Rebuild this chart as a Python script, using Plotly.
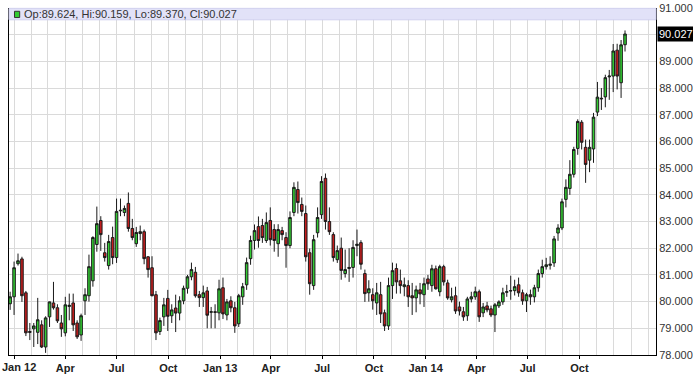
import plotly.graph_objects as go
import pandas as pd

first_week = "2011-12-25"

opens = [
    79.92, 80.18, 81.42, 81.60, 80.33, 78.88, 78.98, 78.85, 79.13, 78.30,
    79.43, 79.95, 79.77, 79.20, 78.83, 79.82, 79.95, 79.20, 78.75, 80.03,
    80.22, 80.78, 82.14, 83.04, 81.83, 81.35, 82.40, 81.65, 83.40, 83.34,
    83.68, 82.74, 82.17, 82.55, 82.62, 81.68, 81.27, 80.26, 78.88, 79.43,
    80.12, 79.47, 79.76, 79.57, 80.03, 80.50, 80.93, 81.10, 80.26, 80.15,
    80.40, 79.60, 79.62, 79.58, 80.52, 79.50, 80.03, 79.77, 79.17, 80.18,
    80.63, 81.61, 82.29, 82.81, 82.85, 82.29, 83.04, 82.70, 82.17, 82.66,
    82.40, 82.10, 83.34, 84.20, 83.64, 83.30, 81.83, 80.60, 82.58, 83.26,
    84.62, 83.00, 82.51, 81.57, 82.00, 81.05, 81.24, 81.28, 82.10, 82.21,
    81.05, 80.33, 80.26, 79.95, 80.26, 79.58, 79.09, 80.60, 81.24, 80.78,
    80.56, 80.60, 80.22, 80.14, 80.44, 80.26, 80.85, 80.60, 81.23, 80.37,
    81.31, 80.70, 80.07, 80.22, 79.80, 79.62, 79.47, 80.10, 80.18, 80.37,
    79.58, 79.84, 79.73, 79.50, 79.84, 79.99, 80.35, 80.40, 80.41, 80.63,
    80.33, 80.03, 80.26, 80.18, 80.52, 81.05, 81.31, 81.36, 81.45, 82.57,
    82.76, 83.83, 84.24, 84.77, 85.74, 86.72, 85.78, 85.30, 85.72, 87.10,
    87.62, 87.67, 88.42, 88.45, 89.42, 88.20, 89.624,
]

closes = [
    80.18, 81.27, 81.53, 80.22, 78.83, 78.85, 79.09, 79.32, 78.30, 79.39,
    79.99, 79.77, 79.28, 78.98, 79.88, 79.86, 79.13, 78.68, 79.47, 80.26,
    81.31, 82.40, 82.92, 82.51, 81.65, 82.25, 81.65, 83.38, 83.42, 83.49,
    82.74, 82.40, 82.59, 82.62, 81.61, 81.20, 80.22, 78.83, 79.29, 79.88,
    79.45, 79.69, 79.57, 80.03, 80.50, 80.93, 81.20, 80.22, 80.15, 80.33,
    79.49, 79.62, 79.60, 80.48, 79.54, 79.99, 79.77, 79.09, 80.22, 80.56,
    81.46, 82.29, 82.66, 82.29, 82.40, 82.96, 82.32, 82.29, 82.70, 82.51,
    82.10, 83.15, 84.28, 83.71, 83.38, 81.68, 80.67, 82.32, 83.15, 84.50,
    83.00, 82.62, 81.65, 81.91, 81.17, 81.20, 81.28, 82.03, 82.15, 81.40,
    80.30, 80.48, 80.03, 80.33, 79.54, 79.09, 80.60, 81.16, 80.74, 80.60,
    80.63, 80.18, 80.14, 80.44, 80.29, 80.67, 80.67, 81.23, 80.48, 81.31,
    80.74, 80.14, 80.18, 79.65, 79.65, 79.43, 80.10, 80.18, 80.37, 79.43,
    79.80, 79.69, 79.50, 79.88, 79.99, 80.33, 80.37, 80.41, 80.56, 80.33,
    80.03, 80.26, 80.18, 80.52, 81.05, 81.31, 81.38, 81.40, 82.35, 82.76,
    83.74, 84.28, 84.77, 85.70, 86.75, 85.97, 85.14, 85.78, 86.91, 87.66,
    87.60, 88.39, 88.45, 89.39, 88.45, 89.62, 90.027,
]

highs = [
    80.37, 81.50, 81.80, 81.68, 80.40, 79.20, 79.20, 80.14, 79.30, 79.45,
    80.00, 80.74, 79.90, 79.50, 80.18, 80.30, 80.30, 79.30, 79.55, 80.50,
    81.76, 82.45, 83.56, 83.20, 82.20, 82.50, 82.81, 83.86, 83.86, 83.60,
    84.09, 83.10, 82.80, 82.85, 82.70, 81.70, 81.70, 80.40, 79.40, 80.14,
    80.44, 79.90, 80.26, 80.20, 80.60, 81.00, 81.46, 81.30, 80.40, 80.60,
    80.55, 79.80, 79.90, 80.82, 80.90, 80.10, 80.20, 79.99, 80.29, 80.70,
    81.65, 82.47, 82.89, 83.19, 83.10, 83.34, 83.53, 82.90, 82.90, 82.80,
    82.60, 83.38, 84.47, 84.50, 83.90, 83.60, 81.99, 82.50, 83.53, 84.70,
    84.80, 83.53, 82.60, 82.10, 82.40, 81.95, 82.00, 82.30, 82.70, 82.30,
    81.20, 80.80, 80.50, 80.70, 80.74, 79.70, 80.90, 81.46, 81.43, 81.20,
    80.90, 80.80, 80.70, 80.60, 80.70, 80.90, 81.00, 81.38, 81.35, 81.38,
    81.38, 80.82, 80.52, 80.56, 80.00, 79.80, 80.18, 80.37, 80.56, 80.45,
    79.95, 79.99, 79.85, 79.95, 80.05, 80.52, 80.63, 80.97, 80.82, 80.90,
    80.45, 80.33, 80.45, 80.63, 81.20, 81.57, 81.64, 81.70, 82.46, 82.90,
    83.86, 84.58, 85.30, 85.80, 86.83, 86.80, 86.07, 86.07, 87.07, 88.23,
    88.00, 88.50, 88.68, 89.65, 89.66, 89.80, 90.159,
]

lows = [
    79.69, 79.50, 81.35, 79.99, 78.71, 78.56, 78.30, 78.41, 78.26, 78.08,
    79.05, 79.70, 79.20, 78.68, 78.70, 79.30, 78.90, 78.60, 78.53, 79.50,
    80.00, 80.56, 81.87, 81.90, 81.50, 81.20, 81.40, 81.45, 83.20, 83.20,
    82.62, 82.30, 82.05, 82.30, 81.40, 80.90, 80.20, 78.56, 78.75, 79.09,
    78.90, 79.20, 78.86, 79.30, 79.90, 80.30, 80.80, 80.15, 79.80, 79.80,
    79.00, 79.00, 79.00, 79.30, 79.35, 79.30, 79.60, 78.83, 79.05, 79.88,
    80.44, 81.38, 81.95, 82.02, 82.20, 82.20, 82.10, 81.87, 81.68, 82.30,
    81.27, 82.00, 83.20, 83.30, 83.20, 81.50, 80.26, 80.44, 82.40, 83.10,
    82.70, 82.50, 81.50, 81.45, 80.82, 80.90, 80.74, 80.90, 81.70, 81.20,
    79.99, 80.00, 79.70, 79.50, 79.20, 78.90, 78.94, 80.10, 80.30, 80.30,
    80.20, 79.80, 79.50, 79.60, 79.90, 79.80, 80.44, 80.37, 80.45, 80.20,
    80.60, 80.07, 79.97, 79.54, 79.48, 79.28, 79.28, 79.97, 80.07, 79.24,
    79.42, 79.60, 79.42, 78.86, 79.76, 79.88, 80.18, 80.07, 80.23, 80.18,
    79.88, 79.61, 79.88, 79.97, 80.37, 80.90, 81.20, 81.20, 81.30, 82.28,
    82.68, 83.53, 84.00, 84.65, 85.50, 85.70, 84.45, 84.85, 85.20, 86.95,
    87.18, 87.28, 87.56, 87.85, 87.95, 87.63, 89.370,
]

tick_dates = ["2012-01-01", "2012-04-01", "2012-07-01", "2012-10-01",
              "2013-01-01", "2013-04-01", "2013-07-01", "2013-10-01",
              "2014-01-01", "2014-04-01", "2014-07-01", "2014-10-01"]
tick_text = ["Jan 12", "Apr", "Jul", "Oct", "Jan 13", "Apr", "Jul", "Oct",
             "Jan 14", "Apr", "Jul", "Oct"]

price_ticks = list(range(78, 92))

assert len(opens) == len(closes) == len(highs) == len(lows), (
    len(opens), len(closes), len(highs), len(lows))

dates = pd.date_range(first_week, periods=len(opens), freq="7D")
last_close = closes[-1]

price_text = ["" if abs(v - last_close) < 0.5 else f"{v:.3f}" for v in price_ticks]

# the first label sits at the very left edge; it is drawn separately so it
# is not clipped by the page border
axis_text = [""] + tick_text[1:]

fig = go.Figure()
fig.add_trace(go.Candlestick(
    x=dates, open=opens, high=highs, low=lows, close=closes,
    increasing=dict(fillcolor="#33cc33", line=dict(color="#1a1a1a", width=1)),
    decreasing=dict(fillcolor="#c41e1e", line=dict(color="#1a1a1a", width=1)),
    whiskerwidth=0,
    hoverinfo="x+y",
))

font_family = "Arial, Liberation Sans, sans-serif"

fig.update_layout(
    width=693, height=378,
    margin=dict(l=9, r=37, t=8, b=23, pad=0, autoexpand=False),
    paper_bgcolor="white",
    plot_bgcolor="white",
    showlegend=False,
    boxgap=0.08,
    font=dict(family=font_family, size=11, color="#333333"),
    xaxis=dict(
        type="date",
        automargin=False,
        range=["2011-12-23", "2015-02-14"],
        rangeslider=dict(visible=False),
        tickmode="array",
        tickvals=tick_dates,
        ticktext=axis_text,
        tickfont=dict(family=font_family, size=11, color="#222222", weight="bold"),
        showgrid=True,
        gridcolor="#dadada",
        gridwidth=1,
        minor=dict(dtick="M1", tick0="2012-01-01", showgrid=True,
                   gridcolor="#dadada", gridwidth=1, ticks=""),
        showline=True, linecolor="#000000", linewidth=1,
        ticks="outside", ticklen=3, tickcolor="#000000",
        zeroline=False,
    ),
    yaxis=dict(
        side="right",
        automargin=False,
        range=[78, 91],
        tickmode="array",
        tickvals=price_ticks,
        ticktext=price_text,
        ticklabeloverflow="allow",
        tickfont=dict(family=font_family, size=11, color="#333333"),
        showgrid=True,
        gridcolor="#dadada",
        gridwidth=1,
        showline=True, linecolor="#000000", linewidth=1, mirror=True,
        ticks="", zeroline=False,
    ),
)

fig.add_annotation(
    xref="paper", yref="paper", x=0, y=0,
    xanchor="left", yanchor="middle", xshift=-9, yshift=-12,
    showarrow=False, text=tick_text[0],
    font=dict(family=font_family, size=11, color="#222222", weight="bold"),
)

# header strip with the latest bar's values
fig.add_shape(type="rect", xref="paper", yref="paper",
              x0=0, x1=1, y0=0.966, y1=0.999,
              fillcolor="#e2e2f8", line=dict(color="#d0d0ee", width=1),
              layer="above")
fig.add_shape(type="rect", xref="paper", yref="paper",
              x0=0.0085, x1=0.0165, y0=0.9725, y1=0.9905,
              fillcolor="#33cc33", line=dict(color="#333333", width=1),
              layer="above")
fig.add_annotation(
    xref="paper", yref="paper", x=0.02, y=0.9825,
    xanchor="left", yanchor="middle", showarrow=False,
    text=f"Op:{opens[-1]:.3f}, Hi:{highs[-1]:.3f}, Lo:{lows[-1]:.3f}, Cl:{closes[-1]:.3f}",
    font=dict(family=font_family, size=11, color="#333333"),
)

# last close marker on the price axis
fig.add_annotation(
    xref="paper", yref="y", x=1, y=last_close,
    xanchor="left", yanchor="middle", xshift=1, showarrow=False,
    text=f"{last_close:.3f}",
    font=dict(family=font_family, size=11, color="#ffffff"),
    bgcolor="#000000", borderpad=1,
)

fig.write_html("out.html")
